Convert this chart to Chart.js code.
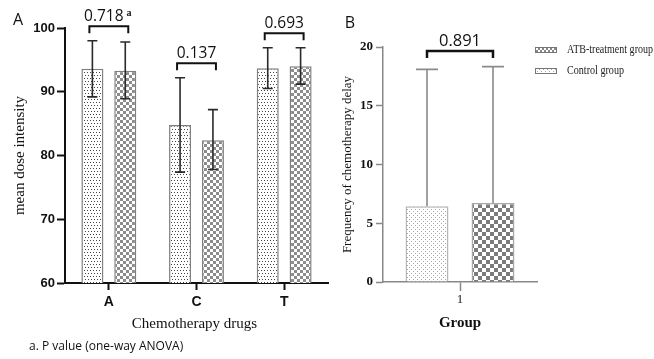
<!DOCTYPE html>
<html><head><meta charset="utf-8">
<script src="https://cdn.jsdelivr.net/npm/chart.js@4"></script>
<style>
body{margin:0;background:#fff;width:654px;height:359px;position:relative;overflow:hidden}
canvas{position:absolute;top:0}
</style></head>
<body>
<canvas id="chartA" width="330" height="359" style="left:0"></canvas>
<canvas id="chartB" width="324" height="359" style="left:330px"></canvas>
<script>
// ---------- data ----------
const drugs = ['A', 'C', 'T'];
const controlMean = [93.6, 84.8, 93.7];
const controlLow  = [89.2, 77.4, 90.5];
const controlHigh = [98.0, 92.2, 96.9];
const atbMean = [93.3, 82.4, 94.0];
const atbLow  = [88.9, 77.8, 91.2];
const atbHigh = [97.8, 87.2, 96.9];
const pValuesDrugs = ['0.718', '0.137', '0.693'];
const doseTicks = [60, 70, 80, 90, 100];

const groups = ['1'];
const controlDelay = [6.44];
const controlDelayHigh = [18.1];
const atbDelay = [6.72];
const atbDelayHigh = [18.33];
const pValuesGroup = ['0.891'];
const delayTicks = [0, 5, 10, 15, 20];

const legendLabels = ['ATB-treatment group', 'Control group'];

// ---------- patterns ----------
function makePattern(size, draw) {
  const c = document.createElement('canvas');
  c.width = size; c.height = size;
  const x = c.getContext('2d');
  x.fillStyle = '#fff'; x.fillRect(0, 0, size, size);
  draw(x);
  return x.createPattern(c, 'repeat');
}
const dotsA = makePattern(6, x => { x.fillStyle = '#444'; x.fillRect(0,0,1,1); x.fillRect(3,0,1,1); x.fillRect(1,3,1,1); x.fillRect(4,3,1,1); });
const checkA = makePattern(6, x => { x.fillStyle = '#8c8c8c'; x.fillRect(0,0,3,3); x.fillRect(3,3,3,3); });
const dotsB = makePattern(4, x => { x.fillStyle = '#a8a8a8'; x.fillRect(1,1,1,1); x.fillRect(3,3,1,1); });
const checkB = makePattern(8, x => { x.fillStyle = '#7b7b7b'; x.fillRect(0,0,4,4); x.fillRect(4,4,4,4); });
const checkSmall = makePattern(4, x => { x.fillStyle = '#888'; x.fillRect(0,0,2,2); x.fillRect(2,2,2,2); });

// ---------- plugins ----------
const errorBars = {
  id: 'errorBars',
  afterDatasetsDraw(chart, args, o) {
    const ctx = chart.ctx, ys = chart.scales.y;
    ctx.save();
    ctx.strokeStyle = o.color; ctx.lineWidth = o.width;
    chart.data.datasets.forEach((ds, i) => {
      chart.getDatasetMeta(i).data.forEach((bar, j) => {
        const top = ys.getPixelForValue(o.high[i][j]);
        const bot = o.low ? ys.getPixelForValue(o.low[i][j]) : bar.y;
        ctx.beginPath();
        ctx.moveTo(bar.x, bot); ctx.lineTo(bar.x, top);
        ctx.moveTo(bar.x - o.cap, top); ctx.lineTo(bar.x + o.cap, top);
        if (o.low) { ctx.moveTo(bar.x - o.cap, bot); ctx.lineTo(bar.x + o.cap, bot); }
        ctx.stroke();
      });
    });
    ctx.restore();
  }
};
const brackets = {
  id: 'brackets',
  afterDatasetsDraw(chart, args, o) {
    const ctx = chart.ctx, ys = chart.scales.y;
    const m0 = chart.getDatasetMeta(0), m1 = chart.getDatasetMeta(1);
    ctx.save();
    ctx.strokeStyle = '#111'; ctx.lineWidth = o.width; ctx.fillStyle = '#111';
    o.labels.forEach((lab, j) => {
      const x1 = m0.data[j].x - o.extra, x2 = m1.data[j].x + o.extra;
      const hi = Math.max(o.high[0][j], o.high[1][j]);
      const y = ys.getPixelForValue(hi) - o.gap;
      ctx.beginPath();
      ctx.moveTo(x1, y + o.leg); ctx.lineTo(x1, y); ctx.lineTo(x2, y); ctx.lineTo(x2, y + o.leg);
      ctx.stroke();
      ctx.font = o.font; ctx.textAlign = 'center'; ctx.textBaseline = 'alphabetic';
      const cx = (x1 + x2) / 2 - (o.sup && j === 0 ? 5 : 0);
      ctx.fillText(lab, cx, y - 5);
      if (o.sup && j === 0) {
        const w = ctx.measureText(lab).width;
        ctx.font = 'bold 10px "Liberation Serif"';
        ctx.textAlign = 'left';
        ctx.fillText(o.sup, cx + w / 2 + 3, y - 10);
      }
    });
    ctx.restore();
  }
};
function fitText(ctx, t, x, y, w) {
  const m = ctx.measureText(t).width;
  const s = Math.min(1, w / m);
  ctx.save(); ctx.translate(x, y); ctx.scale(s, 1); ctx.fillText(t, 0, 0); ctx.restore();
}
const textsA = {
  id: 'textsA',
  afterDraw(chart) {
    const ctx = chart.ctx, ca = chart.chartArea;
    ctx.save();
    ctx.fillStyle = '#111';
    ctx.font = '16px "Open Sans"'; ctx.textAlign = 'center'; ctx.textBaseline = 'middle';
    ctx.fillText('A', 18, 20);
    ctx.font = '15px "Liberation Serif"';
    ctx.fillText('Chemotherapy drugs', (ca.left + ca.right) / 2 - 2, 324);
    ctx.save();
    ctx.translate(20, (ca.top + ca.bottom) / 2);
    ctx.rotate(-Math.PI / 2);
    ctx.fillText('mean dose intensity', 0, 0);
    ctx.restore();
    ctx.font = '12px "Open Sans"'; ctx.textAlign = 'left';
    ctx.fillText('a. P value (one-way ANOVA)', 29, 347);
    ctx.restore();
  }
};
const textsB = {
  id: 'textsB',
  afterDraw(chart) {
    const ctx = chart.ctx, ca = chart.chartArea;
    ctx.save();
    ctx.fillStyle = '#111';
    ctx.font = '16px "Open Sans"'; ctx.textAlign = 'center'; ctx.textBaseline = 'middle';
    ctx.fillText('B', 20, 23);
    ctx.font = 'bold 15px "Liberation Serif"';
    ctx.fillText('Group', (ca.left + ca.right) / 2, 323);
    ctx.font = '13px "Liberation Serif"';
    ctx.save();
    ctx.translate(18, (ca.top + ca.bottom) / 2);
    ctx.rotate(-Math.PI / 2);
    ctx.fillText('Frequency of chemotherapy delay', 0, 0);
    ctx.restore();
    // legend
    const lx = 205, ly = [50, 71];
    const fills = [checkSmall, dotsB];
    const widths = [86, 57];
    ctx.font = '12px "Liberation Serif"'; ctx.textAlign = 'left';
    legendLabels.forEach((t, i) => {
      ctx.fillStyle = fills[i];
      ctx.fillRect(lx, ly[i] - 2.5, 22, 5);
      ctx.strokeStyle = '#777'; ctx.lineWidth = 1;
      ctx.strokeRect(lx + 0.5, ly[i] - 2.5, 21, 5);
      ctx.fillStyle = '#222';
      fitText(ctx, t, 237, ly[i], widths[i]);
    });
    ctx.restore();
  }
};

// ---------- chart A ----------
new Chart(document.getElementById('chartA'), {
  type: 'bar',
  data: {
    labels: drugs,
    datasets: [
      { label: 'Control group', data: controlMean, backgroundColor: dotsA, borderColor: '#808080', borderWidth: 1.5 },
      { label: 'ATB-treatment group', data: atbMean, backgroundColor: checkA, borderColor: '#808080', borderWidth: 1.5 }
    ]
  },
  options: {
    responsive: false, animation: false, devicePixelRatio: 1,
    categoryPercentage: 0.75, barPercentage: 0.67,
    layout: { padding: { left: 0, right: 2, top: 28, bottom: 36 } },
    plugins: {
      legend: { display: false }, tooltip: { enabled: false },
      errorBars: { low: [controlLow, atbLow], high: [controlHigh, atbHigh], cap: 5, color: '#2a2a2a', width: 1.6 },
      brackets: { labels: pValuesDrugs, high: [controlHigh, atbHigh], extra: 3, gap: 14.5, leg: 7, width: 2, font: '15.5px "Open Sans"', sup: 'a' }
    },
    scales: {
      x: {
        afterFit: s => { s.height = 40; },
        grid: { offset: false, drawOnChartArea: false, drawTicks: true, tickLength: 7, tickWidth: 2, tickColor: '#111' },
        border: { display: true, color: '#111', width: 2 },
        ticks: { color: '#111', padding: 4, font: { family: '"Liberation Sans"', size: 14, weight: 'bold' } }
      },
      y: {
        min: doseTicks[0], max: doseTicks[doseTicks.length - 1], afterFit: s => { s.width = 65; },
        afterBuildTicks: s => { s.ticks = doseTicks.map(v => ({ value: v })); },
        grid: { drawOnChartArea: false, drawTicks: true, tickLength: 8, tickWidth: 2, tickColor: '#111' },
        border: { display: true, color: '#111', width: 2 },
        ticks: { color: '#111', padding: 2, font: { family: '"Liberation Sans"', size: 13, weight: 'bold' } }
      }
    }
  },
  plugins: [errorBars, brackets, textsA]
});

// ---------- chart B ----------
new Chart(document.getElementById('chartB'), {
  type: 'bar',
  data: {
    labels: groups,
    datasets: [
      { label: 'Control group', data: controlDelay, backgroundColor: dotsB, borderColor: '#b5b5b5', borderWidth: 1.5 },
      { label: 'ATB-treatment group', data: atbDelay, backgroundColor: checkB, borderColor: '#a8a8a8', borderWidth: 1.5 }
    ]
  },
  options: {
    responsive: false, animation: false, devicePixelRatio: 1,
    categoryPercentage: 0.857, barPercentage: 0.65,
    layout: { padding: { left: 0, right: 117, top: 47, bottom: 47 } },
    plugins: {
      legend: { display: false }, tooltip: { enabled: false },
      errorBars: { low: null, high: [controlDelayHigh, atbDelayHigh], cap: 11, color: '#8a8a8a', width: 1.6 },
      brackets: { labels: pValuesGroup, high: [controlDelayHigh, atbDelayHigh], extra: 0, gap: 15.5, leg: 7, width: 2.5, font: '16.5px "Open Sans"', sup: null }
    },
    scales: {
      x: {
        afterFit: s => { s.height = 30; },
        grid: { offset: false, drawOnChartArea: false, drawTicks: true, tickLength: 9, tickWidth: 1.5, tickColor: '#888' },
        border: { display: true, color: '#888', width: 1.5 },
        ticks: { color: '#222', padding: 1, font: { family: '"Liberation Serif"', size: 13 } }
      },
      y: {
        min: delayTicks[0], max: delayTicks[delayTicks.length - 1], afterFit: s => { s.width = 53; },
        afterBuildTicks: s => { s.ticks = delayTicks.map(v => ({ value: v })); },
        grid: { drawOnChartArea: false, drawTicks: true, tickLength: 7, tickWidth: 1.5, tickColor: '#888' },
        border: { display: true, color: '#888', width: 1.5 },
        ticks: { color: '#111', padding: 3, font: { family: '"Liberation Serif"', size: 13, weight: 'bold' } }
      }
    }
  },
  plugins: [errorBars, brackets, textsB]
});
</script>
</body></html>
